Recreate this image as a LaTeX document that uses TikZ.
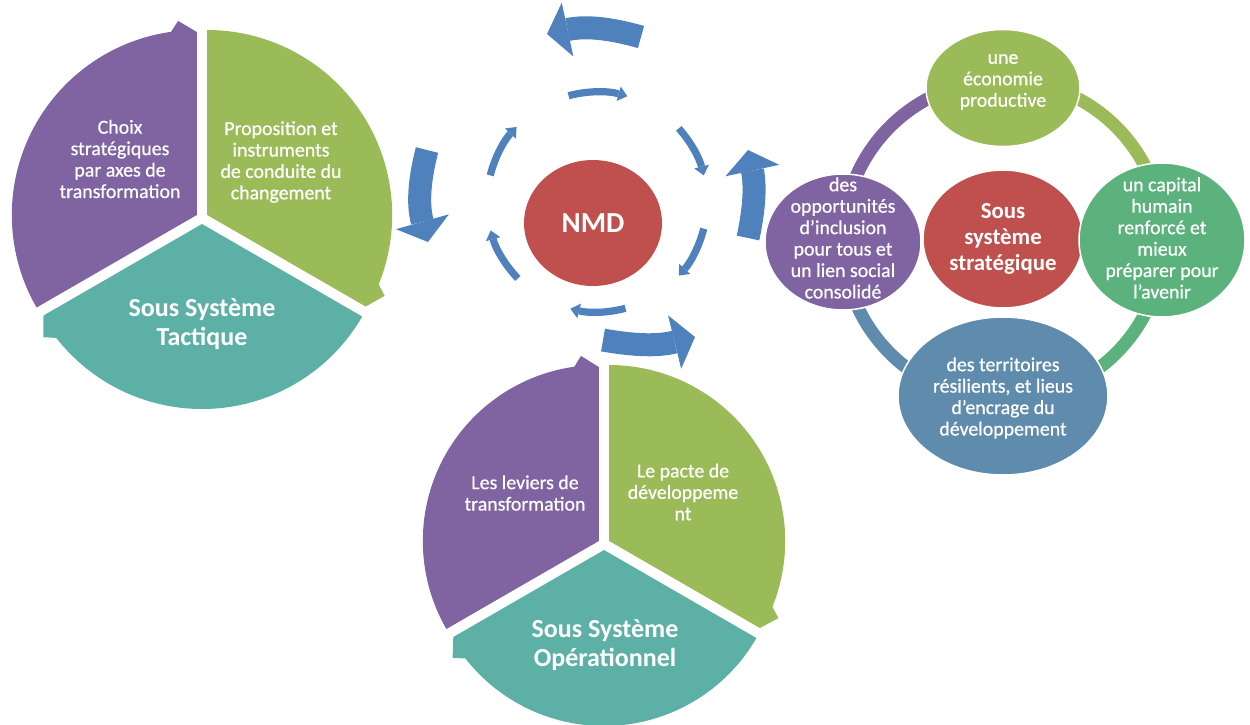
\documentclass[tikz,border=0pt]{standalone}
\usepackage{fontspec}
\setmainfont{Carlito}
\usetikzlibrary{arrows.meta,calc,shapes.geometric}
\definecolor{cpurple}{HTML}{8064A2}
\definecolor{cgreen}{HTML}{9BBB59}
\definecolor{cteal}{HTML}{5DB0A6}
\definecolor{cred}{HTML}{C0504D}
\definecolor{cblue}{HTML}{4F81BD}
\definecolor{cgreentwo}{HTML}{5BB27C}
\definecolor{cslate}{HTML}{5F8CAD}
% cx, cy, start, end, colour, radius, explode
\newcommand\pieseg[7]{%
 \begin{scope}[shift={(#1,#2)},shift={({(#3+#4)/2}:#7)}]
  \fill[#5] (0,0) -- (#3:#6) arc[start angle=#3,end angle={#4+8},radius=#6]
     -- ({#4+5.5}:{#6+10}) -- (#4:{#6-2}) -- cycle;
 \end{scope}}
\tikzset{
 lbl/.style={text=white,align=center,inner sep=0pt,font=\addfontfeature{FakeBold=0.6}\fontsize{11.3}{12.2}\selectfont},
 bigl/.style={text=white,align=center,inner sep=0pt,font=\bfseries\fontsize{14.8}{16.5}\selectfont},
 midl/.style={text=white,align=center,inner sep=0pt,font=\bfseries\fontsize{13}{14.8}\selectfont},
 bigarr/.style={draw=cblue,line width=0.46cm,-{Triangle[width=1.1cm,length=0.42cm,line width=0pt]}},
 smallarr/.style={draw=cblue,line width=0.145cm,-{Triangle[width=0.3cm,length=0.18cm,line width=0pt]}},
 bub/.style={ellipse,draw=white,line width=0.03cm,inner sep=0pt},
 ring/.style={line width=0.26cm},
}
\begin{document}
\begin{tikzpicture}[x=0.02cm,y=0.02cm]
\useasboundingbox (0,0) rectangle (1250,-724);
% ---------- left pie (tactique)
\pieseg{202}{-218}{210}{90}{cpurple}{185}{6}
\pieseg{202}{-218}{90}{-30}{cgreen}{185}{6}
\pieseg{202}{-218}{-30}{-150}{cteal}{185}{6}
\node[lbl] (t1) at (120,-159) {Choix\\stratégiques\\par axes de\\transformation};
\node[lbl] (t2) at (281,-162) {Proposition et\\instruments\\de conduite du\\changement};
\node[bigl] (t3) at (202,-324) {Sous Système\\Tactique};
% ---------- bottom pie (operationnel)
\pieseg{604}{-544}{210}{90}{cpurple}{176}{6}
\pieseg{604}{-544}{90}{-30}{cgreen}{176}{6}
\pieseg{604}{-544}{-30}{-150}{cteal}{176}{6}
\node[lbl] (b1) at (525,-493) {Les leviers de\\transformation};
\node[lbl] (b2) at (683,-492) {Le pacte de\\développeme\\nt};
\node[bigl] (b3) at (605,-645) {Sous Système\\Opérationnel};
% ---------- centre NMD
\node[ellipse,fill=cred,minimum width=2.76cm,minimum height=2.52cm,inner sep=0pt] (nmd) at (593,-223) {};
\node[text=white,font=\bfseries\fontsize{16.5}{18}\selectfont] (nmdt) at (nmd) {NMD};
\coordinate (dc) at (597,-202);
\draw[smallarr] ([shift={(105:110)}]dc) arc[start angle=105,end angle=74,radius=110];
\draw[smallarr] ([shift={(42:110)}]dc) arc[start angle=42,end angle=14,radius=110];
\draw[smallarr] ([shift={(-14:110)}]dc) arc[start angle=-14,end angle=-42,radius=110];
\draw[smallarr] ([shift={(-75:110)}]dc) arc[start angle=-75,end angle=-104,radius=110];
\draw[smallarr] ([shift={(-136:110)}]dc) arc[start angle=-136,end angle=-165,radius=110];
\draw[smallarr] ([shift={(166:110)}]dc) arc[start angle=166,end angle=137,radius=110];
% big arrows
\coordinate (a1s) at (641,-37);  \coordinate (a1e) at (547,-34);
\coordinate (a2s) at (427,-150); \coordinate (a2e) at (428,-242);
\coordinate (a3s) at (603,-340); \coordinate (a3e) at (695,-337);
\coordinate (a4s) at (748,-238); \coordinate (a4e) at (748,-150);
\draw[bigarr] (a1s) to[bend right=14] (a1e);
\draw[bigarr] (a2s) to[bend right=15] (a2e);
\draw[bigarr] (a3s) to[bend right=12] (a3e);
\draw[bigarr] (a4s) to[bend right=12] (a4e);
% ---------- right panel (strategique)
\coordinate (rc) at (1003,-240);
\draw[ring,cgreen] ([shift={(90:160)}]rc) arc[start angle=90,end angle=0,radius=160];
\draw[ring,cgreentwo] ([shift={(0:160)}]rc) arc[start angle=0,end angle=-90,radius=160];
\draw[ring,cslate] ([shift={(-90:160)}]rc) arc[start angle=-90,end angle=-180,radius=160];
\draw[ring,cpurple] ([shift={(180:160)}]rc) arc[start angle=180,end angle=90,radius=160];
\node[bub,fill=cred,minimum width=3.2cm,minimum height=2.76cm] (sr) at (1003,-239) {};
\node[bub,fill=cgreen,minimum width=3.08cm,minimum height=2.34cm] (s1) at (1003,-88) {};
\node[bub,fill=cpurple,minimum width=3.12cm,minimum height=2.72cm] (s4) at (843,-242) {};
\node[bub,fill=cgreentwo,minimum width=3.32cm,minimum height=3.08cm] (s2) at (1162,-240) {};
\node[bub,fill=cslate,minimum width=4.2cm,minimum height=3.16cm] (s3) at (1003,-396) {};
\node[midl] at (sr) {Sous\\système\\stratégique};
\node[lbl] at (1003,-82) {une\\économie\\productive};
\node[lbl] at (843,-238) {des\\opportunités\\d’inclusion\\pour tous et\\un lien social\\consolidé};
\node[lbl] at (1162,-238) {un capital\\humain\\renforcé et\\mieux\\préparer pour\\l’avenir};
\node[lbl] at (1003,-398) {des territoires\\résilients, et lieus\\d’encrage du\\développement};
\end{tikzpicture}
\end{document}
